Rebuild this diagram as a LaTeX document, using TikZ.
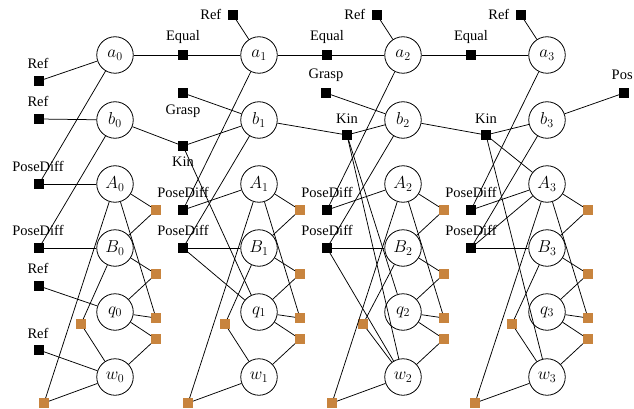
\documentclass[tikz,border=0pt]{standalone}
\usepackage{fontspec}
\setmainfont{Liberation Serif}
\definecolor{facorange}{RGB}{200,132,62}
\begin{document}
\begin{tikzpicture}[x=1pt,y=-1pt,
  var/.style={circle,draw,line width=0.8pt,minimum size=36.5pt,inner sep=0pt,fill=white,font=\fontsize{17}{20}\selectfont},
  fac/.style={rectangle,fill=black,minimum size=9.5pt,inner sep=0pt},
  ofac/.style={rectangle,fill=facorange,minimum size=9.5pt,inner sep=0pt},
  lbl/.style={anchor=base,inner sep=0pt,font=\fontsize{14.5}{17}\selectfont},
  lble/.style={anchor=base east,inner sep=0pt,font=\fontsize{14.5}{17}\selectfont},
  lblw/.style={anchor=base west,inner sep=0pt,font=\fontsize{14.5}{17}\selectfont},
  edge/.style={line width=0.75pt}]
\useasboundingbox (0,0) rectangle (634,409);

% variable nodes and per-column orange factors
\foreach \k/\x/\xl/\xb in {0/115/81/44,1/259/225/188,2/403/363/332,3/547/512/475} {
  \node[var] (a\k) at (\x,55) {$a_{\k}$};
  \node[var] (b\k) at (\x,120) {$b_{\k}$};
  \node[var] (A\k) at (\x,184) {$A_{\k}$};
  \node[var] (B\k) at (\x,248) {$B_{\k}$};
  \node[var] (q\k) at (\x,312) {$q_{\k}$};
  \node[var] (w\k) at (\x,377) {$w_{\k}$};
  \node[ofac] (oa\k) at ({\x+41},210) {};
  \node[ofac] (ob\k) at ({\x+41},274) {};
  \node[ofac] (oc\k) at ({\x+41},318) {};
  \node[ofac] (od\k) at ({\x+41},339) {};
  \node[ofac] (ol\k) at (\xl,324) {};
  \node[ofac] (obt\k) at (\xb,403) {};
  \draw[edge] (oa\k) -- (A\k);
  \draw[edge] (oa\k) -- (B\k);
  \draw[edge] (ob\k) -- (B\k);
  \draw[edge] (ob\k) -- (q\k);
  \draw[edge] (oc\k) -- (A\k);
  \draw[edge] (oc\k) -- (q\k);
  \draw[edge] (od\k) -- (q\k);
  \draw[edge] (od\k) -- (w\k);
  \draw[edge] (ol\k) -- (B\k);
  \draw[edge] (ol\k) -- (w\k);
  \draw[edge] (obt\k) -- (A\k);
  \draw[edge] (obt\k) -- (w\k);
}

% column 0 prior factors
\node[fac] (ra0) at (39,81) {};
\node[fac] (rb0) at (39,119) {};
\node[fac] (pa0) at (39,184) {};
\node[fac] (pb0) at (39,248) {};
\node[fac] (rq0) at (39,286) {};
\node[fac] (rw0) at (39,350) {};
\node[lbl] (lra0) at (38,68.3) {Ref};
\node[lbl] (lrb0) at (38,106.3) {Ref};
\node[lbl] (lpa0) at (38,171.5) {PoseDiff};
\node[lbl] (lpb0) at (38,235.5) {PoseDiff};
\node[lbl] (lrq0) at (38,273.3) {Ref};
\node[lbl] (lrw0) at (38,338) {Ref};
\draw[edge] (ra0) -- (a0);
\draw[edge] (rb0) -- (b0);
\draw[edge] (pa0) -- (A0);
\draw[edge] (pa0) -- (a0);
\draw[edge] (pb0) -- (B0);
\draw[edge] (pb0) -- (b0);
\draw[edge] (rq0) -- (q0);
\draw[edge] (rw0) -- (w0);

% columns 1..3 common factors
\foreach \k/\p/\x in {1/0/259,2/1/403,3/2/547} {
  \node[fac] (pa\k) at ({\x-76},210) {};
  \node[fac] (pb\k) at ({\x-76},248) {};
  \node[fac] (eq\k) at ({\x-76},55) {};
  \node[fac] (rt\k) at ({\x-26},15) {};
  \node[lbl] (lpa\k) at ({\x-76},197.5) {PoseDiff};
  \node[lbl] (lpb\k) at ({\x-76},235.5) {PoseDiff};
  \node[lbl] (leq\k) at ({\x-76},40.5) {Equal};
  \node[lble] (lrt\k) at ({\x-37.5},19.3) {Ref};
  \draw[edge] (pa\k) -- (A\k);
  \draw[edge] (pa\k) -- (a\k);
  \draw[edge] (pb\k) -- (B\k);
  \draw[edge] (pb\k) -- (b\k);
  \draw[edge] (rt\k) -- (a\k);
  \draw[edge] (eq\k) -- (a\p);
  \draw[edge] (eq\k) -- (a\k);
}

% grasp and kinematics factors
\node[fac] (grasp1) at (183,93) {};
\node[fac] (grasp2) at (326,93) {};
\node[fac] (kin1) at (183,146) {};
\node[fac] (kin2) at (347,135) {};
\node[fac] (kin3) at (486,135) {};
\node[fac] (pos) at (624,93) {};
\node[lbl] (lgrasp1) at (183,115) {Grasp};
\node[lbl] (lgrasp2) at (326,78.3) {Grasp};
\node[lbl] (lkin1) at (183,166.7) {Kin};
\node[lbl] (lkin2) at (347,123.3) {Kin};
\node[lbl] (lkin3) at (486,123.3) {Kin};
\node[lblw] (lpos) at (611.5,80) {Pos};

\draw[edge] (grasp1) -- (b1);
\draw[edge] (grasp2) -- (b2);
\draw[edge] (kin1) -- (b0);
\draw[edge] (kin1) -- (b1);
\draw[edge] (kin1) -- (q1);
\draw[edge] (pb1) -- (q1);
\draw[edge] (kin2) -- (b1);
\draw[edge] (kin2) -- (b2);
\draw[edge] (kin2) -- (q2);
\draw[edge] (kin2) -- (w2);
\draw[edge] (pb2) -- (w2);
\draw[edge] (kin3) -- (b2);
\draw[edge] (kin3) -- (b3);
\draw[edge] (kin3) -- (A3);
\draw[edge] (kin3) -- (w3);
\draw[edge] (pb3) -- (A3);
\draw[edge] (b3) -- (pos);
\end{tikzpicture}
\end{document}
